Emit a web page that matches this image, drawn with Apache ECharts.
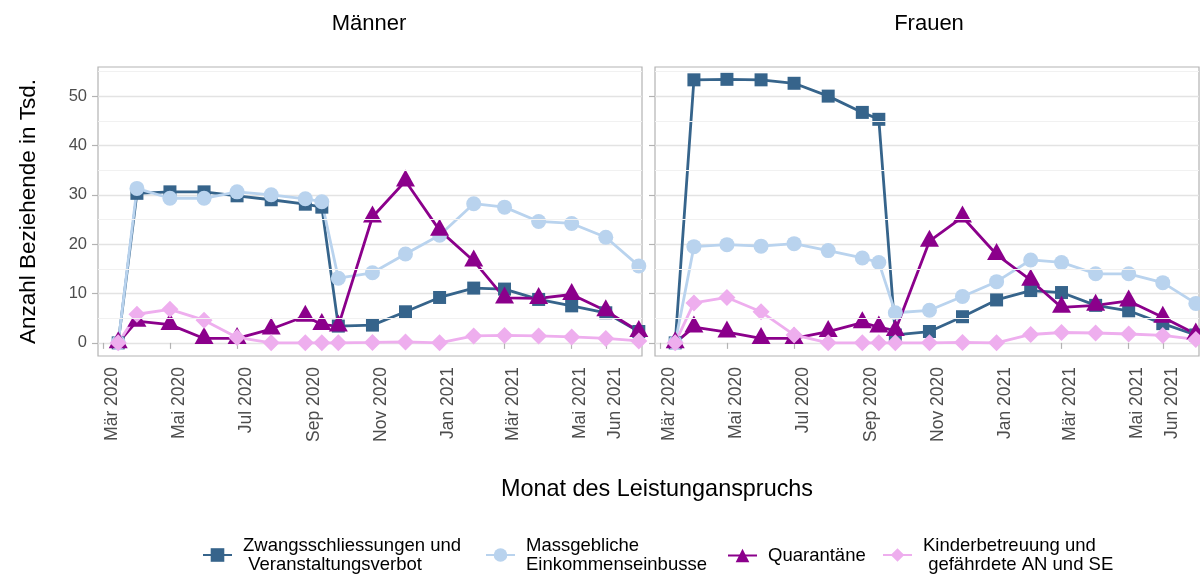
<!DOCTYPE html>
<html>
<head>
<meta charset="utf-8">
<script src="https://cdn.jsdelivr.net/npm/echarts@6/dist/echarts.min.js"></script>
<style>
  html, body { margin: 0; padding: 0; background: #fff; }
  #chart { width: 1200px; height: 574px; }
</style>
</head>
<body>
<div id="chart"></div>
<script>
/* data: Monat des Leistungsanspruchs (plus mid-March and mid-September) */
const dates = ['2020-03-15', '2020-04-01', '2020-05-01', '2020-06-01', '2020-07-01', '2020-08-01',
  '2020-09-01', '2020-09-16', '2020-10-01', '2020-11-01', '2020-12-01', '2021-01-01',
  '2021-02-01', '2021-03-01', '2021-04-01', '2021-05-01', '2021-06-01', '2021-07-01'];

// Männer, in Tsd.
const zwangM = [0, 30.3, 30.6, 30.6, 29.8, 29.0, 28.1, 27.5, 3.4, 3.6, 6.3, 9.2, 11.1, 10.9, 8.8, 7.5, 6.1, 2.3];
const massM  = [0, 31.3, 29.3, 29.3, 30.6, 30.0, 29.2, 28.6, 13.1, 14.2, 18.0, 21.8, 28.2, 27.5, 24.6, 24.2, 21.4, 15.6];
const quarM  = [0, 4.4, 3.7, 0.9, 0.9, 2.8, 5.4, 3.7, 3.4, 25.5, 32.8, 22.8, 16.6, 9.1, 9.0, 9.8, 6.5, 2.3];
const kindM  = [0, 5.8, 6.8, 4.6, 1.1, 0, 0, 0, 0, 0.1, 0.2, 0, 1.4, 1.5, 1.4, 1.2, 0.9, 0.4];

// Frauen, in Tsd.
const zwangF = [0, 53.3, 53.4, 53.3, 52.6, 50.0, 46.7, 45.3, 1.6, 2.3, 5.3, 8.7, 10.6, 10.2, 7.6, 6.5, 3.9, 1.6];
const massF  = [0, 19.5, 19.9, 19.6, 20.1, 18.7, 17.2, 16.3, 6.1, 6.6, 9.4, 12.4, 16.8, 16.3, 14.0, 14.0, 12.2, 8.0];
const quarF  = [0, 3.2, 2.2, 0.9, 0.9, 2.3, 4.1, 3.2, 2.5, 20.6, 25.5, 17.9, 12.7, 7.2, 7.6, 8.5, 5.2, 1.8];
const kindF  = [0, 8.1, 9.2, 6.3, 1.6, 0, 0, 0, 0, 0, 0.1, 0, 1.7, 2.1, 2.0, 1.8, 1.5, 0.7];

/* axis ticks */
const tickDates = ['2020-03-01', '2020-05-01', '2020-07-01', '2020-09-01', '2020-11-01',
  '2021-01-01', '2021-03-01', '2021-05-01', '2021-06-01'];
const tickLabels = ['Mär 2020', 'Mai 2020', 'Jul 2020', 'Sep 2020', 'Nov 2020',
  'Jan 2021', 'Mär 2021', 'Mai 2021', 'Jun 2021'];
const yTicks = [0, 10, 20, 30, 40, 50];
const yMinor = [5, 15, 25, 35, 45, 55];

const panels = ['Männer', 'Frauen'];
const seriesNames = ['Zwangsschliessungen und Veranstaltungsverbot', 'Massgebliche Einkommenseinbusse',
  'Quarantäne', 'Kinderbetreuung und gefährdete AN und SE'];
const legendLabels = ['Zwangsschliessungen und\n Veranstaltungsverbot', 'Massgebliche\nEinkommenseinbusse',
  'Quarantäne', 'Kinderbetreuung und\n gefährdete AN und SE'];

const DAY = 86400000;
const ts = s => new Date(s).getTime();
const tickTs = tickDates.map(ts);
const xMin = ts('2020-03-01') - 4.36 * DAY;
const xMax = ts('2020-03-01') + 489.9 * DAY;

const colors = ['#36648B', '#B9D3EE', '#8B008B', '#EEAEEE'];
const symbols = ['rect', 'circle', 'triangle', 'diamond'];
const symbolSizes = [13, 15, [19, 17], [17, 17]];
const symbolOffsets = [[0, 0], [0, 0], [0, -3], [0, 0]];

const panelData = [[zwangM, massM, quarM, kindM], [zwangF, massF, quarF, kindF]];

const gridLeft = [98, 655];
const font = 'Liberation Sans, Arial, sans-serif';

const grids = gridLeft.map(l => ({
  left: l, top: 67, width: 544, height: 289,
  show: true, borderColor: '#b3b3b3', borderWidth: 1.2, backgroundColor: 'transparent'
}));

function tickLabel(v) {
  let k = 0;
  tickTs.forEach((t, j) => { if (Math.abs(t - v) < Math.abs(tickTs[k] - v)) k = j; });
  return tickLabels[k];
}

const xAxes = gridLeft.map((l, i) => ({
  type: 'value', gridIndex: i, min: xMin, max: xMax,
  axisLine: { show: false },
  axisTick: { show: true, customValues: tickTs, length: 6, lineStyle: { color: '#b3b3b3', width: 1.2 } },
  axisLabel: {
    customValues: tickTs, rotate: 90, margin: 11, fontSize: 17.5, color: '#4d4d4d',
    fontFamily: font, verticalAlign: 'top', hideOverlap: false,
    formatter: v => tickLabel(v)
  },
  splitLine: { show: false }
}));

const yAxes = gridLeft.map((l, i) => ({
  type: 'value', gridIndex: i, min: -2.66, max: 55.9,
  name: i === 0 ? 'Anzahl Beziehende in Tsd.' : '',
  nameLocation: 'middle', nameRotate: 90, nameGap: 58,
  nameTextStyle: { fontSize: 22.5, color: '#000', fontFamily: font },
  axisLine: { show: false },
  axisTick: { show: true, customValues: yTicks, length: 6, lineStyle: { color: '#b3b3b3', width: 1.2 } },
  axisLabel: { show: i === 0, customValues: yTicks, margin: 11, fontSize: 16.5, color: '#4d4d4d', fontFamily: font },
  splitLine: { show: true, lineStyle: { color: '#e3e3e3', width: 1.3 } }
}));

const series = [];
panels.forEach((p, i) => {
  // minor grid lines
  series.push({
    type: 'line', xAxisIndex: i, yAxisIndex: i, data: [], z: 1, silent: true,
    markLine: {
      silent: true, symbol: 'none', label: { show: false },
      lineStyle: { color: '#f1f1f1', width: 1, type: 'solid' },
      data: yMinor.map(v => ({ yAxis: v }))
    }
  });
  seriesNames.forEach((name, k) => {
    series.push({
      name: name, type: 'line', xAxisIndex: i, yAxisIndex: i,
      data: dates.map((d, j) => [ts(d), panelData[i][k][j]]),
      symbol: symbols[k], symbolSize: symbolSizes[k], symbolOffset: symbolOffsets[k],
      showSymbol: true, showAllSymbol: true,
      lineStyle: { color: colors[k], width: 2.8 },
      itemStyle: { color: colors[k] },
      emphasis: { disabled: true }
    });
  });
});

const legendLeft = [197, 480, 722, 877];
const legendTop = [531, 531, 541, 531];
const legends = seriesNames.map((name, k) => ({
  data: [name], left: legendLeft[k], top: legendTop[k], orient: 'horizontal',
  itemWidth: 29, itemHeight: 17, selectedMode: false,
  formatter: () => legendLabels[k],
  textStyle: { fontSize: 18.5, lineHeight: 19, color: '#000', fontFamily: font, padding: [0, 0, 0, 6] }
}));

const titleStyle = { fontWeight: 'normal', color: '#000', fontFamily: font };
const chart = echarts.init(document.getElementById('chart'));
chart.setOption({
  animation: false,
  backgroundColor: '#fff',
  title: [
    { text: 'Männer', left: 364, top: 8, textAlign: 'center', textStyle: Object.assign({ fontSize: 22 }, titleStyle) },
    { text: 'Frauen', left: 924, top: 8, textAlign: 'center', textStyle: Object.assign({ fontSize: 22 }, titleStyle) },
    { text: 'Monat des Leistunganspruchs', left: 652, top: 473, textAlign: 'center', textStyle: Object.assign({ fontSize: 23.4 }, titleStyle) }
  ],
  grid: grids,
  xAxis: xAxes,
  yAxis: yAxes,
  legend: legends,
  series: series
});
</script>
</body>
</html>
